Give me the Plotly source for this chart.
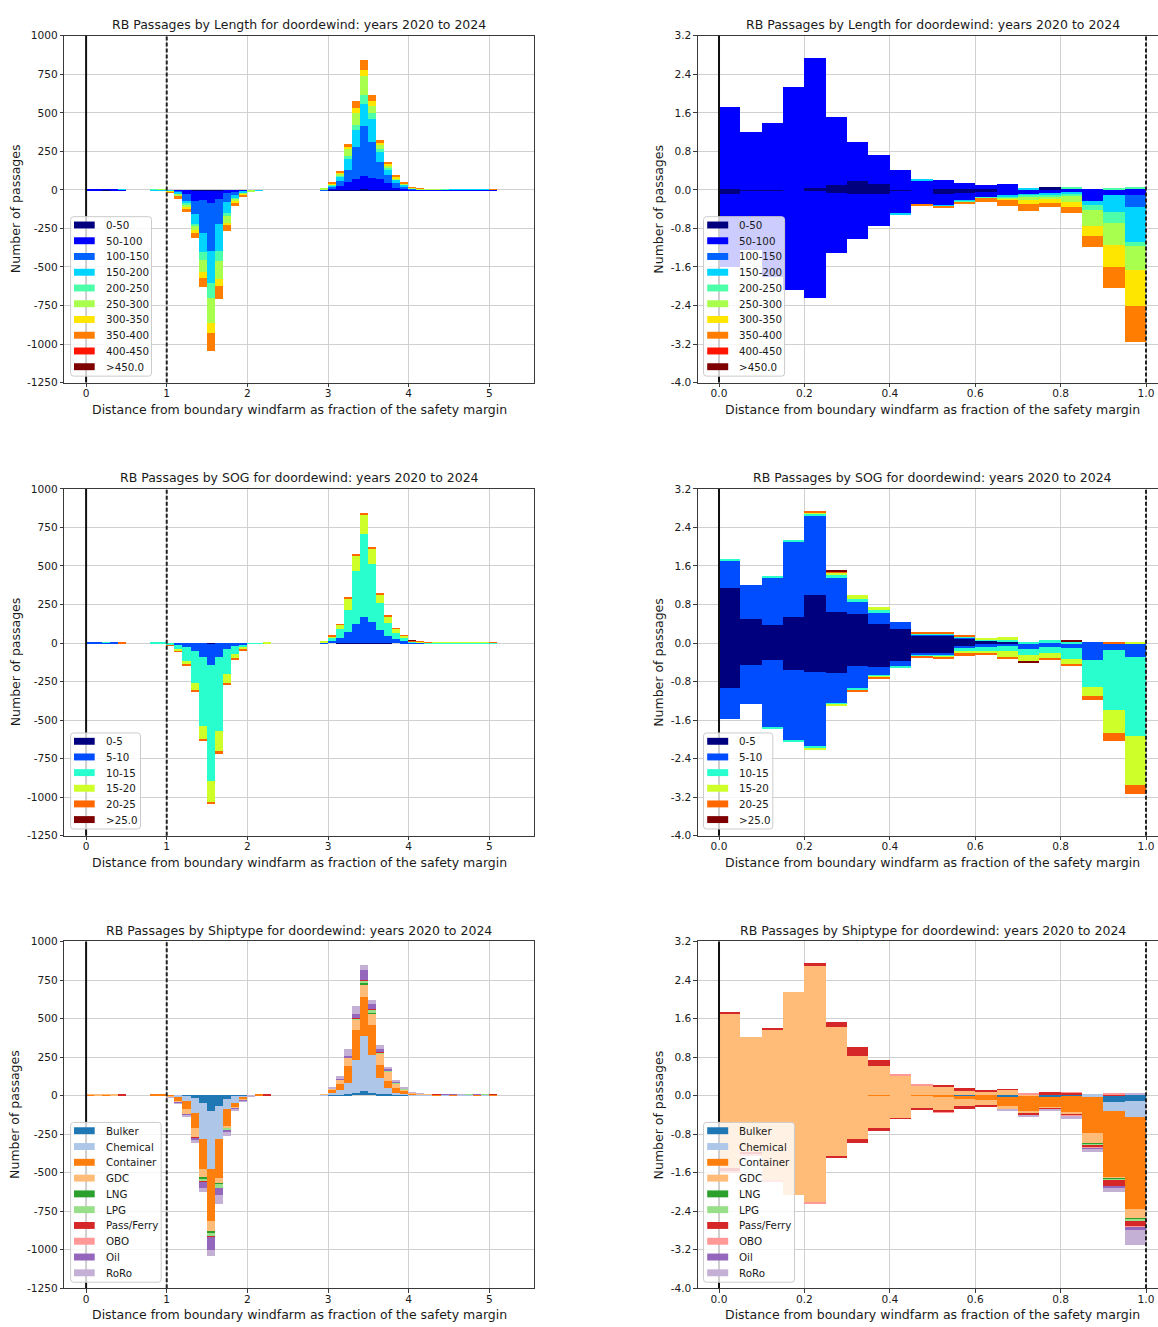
import plotly.graph_objects as go

W, H = 1158, 1327
FONT = "DejaVu Sans"
TXT = "#1a1a1a"
SPINE = "#3a3a3a"
GRID = "#d0d0d0"

# ---------------- categories and colours ----------------
len_cats = ["0-50", "50-100", "100-150", "150-200", "200-250", "250-300",
            "300-350", "350-400", "400-450", ">450.0"]
len_colors = ["#00007f", "#0000ff", "#0063ff", "#00d4ff", "#4effa9", "#a9ff4e",
              "#ffe600", "#ff7d00", "#ff1400", "#7f0000"]
sog_cats = ["0-5", "5-10", "10-15", "15-20", "20-25", ">25.0"]
sog_colors = ["#00007f", "#004cff", "#29ffce", "#ceff29", "#ff6800", "#7f0000"]
ship_cats = ["Bulker", "Chemical", "Container", "GDC", "LNG", "LPG",
             "Pass/Ferry", "OBO", "Oil", "RoRo"]
ship_colors = ["#1f77b4", "#aec7e8", "#ff7f0e", "#ffbb78", "#2ca02c", "#98df8a",
               "#d62728", "#ff9896", "#9467bd", "#c5b0d5"]

# ---------------- left panels: 51 bins of 0.1 (0.0 ... 5.1), upward passages ----------------
len_left_up = [
    [0,0,1,0,0,0,0,0,0,0, 0,0,0,0,0,0,0,0,0,0, 0,0,0,0,0,0,0,0,0,0, 1,2,3,4,5,4,3,2,1,0, 0,0,0,0,0,0,0,0,0,0, 0],
    [2,3,6,3,2,0,0,0,0,0, 0,0,0,0,0,0,0,0,0,0, 0,0,0,0,0,0,0,0,0,0, 12,28,53,69,89,77,70,43,16,8, 3,1,1,1,1,2,2,2,2,2, 1],
    [0,0,0,0,0,0,0,0,0,0, 0,0,0,0,0,0,0,0,0,0, 0,0,0,0,0,0,0,0,0,2, 8,30,74,207,325,231,111,53,28,16, 5,3,1,0,1,1,1,1,1,1, 1],
    [0,0,0,0,1,0,0,0,1,2, 0,0,0,0,0,0,0,0,0,0, 0,0,0,0,0,0,0,0,0,3, 9,28,75,111,143,150,64,39,21,10, 4,3,1,1,1,1,1,1,1,1, 0],
    [0,0,0,0,0,0,0,0,1,0, 0,0,0,0,0,0,0,0,0,0, 0,0,0,0,0,0,0,0,0,1, 4,6,15,32,53,38,21,8,4,2, 1,0,0,0,1,0,0,0,0,0, 0],
    [0,0,0,0,0,0,0,0,0,1, 0,0,0,0,0,0,0,0,0,0, 0,0,0,0,0,0,0,0,0,2, 4,13,45,77,124,47,26,13,7,5, 2,1,1,1,0,0,0,0,0,0, 0],
    [0,0,0,0,0,0,0,0,0,0, 0,0,0,0,0,0,0,0,0,0, 0,0,0,0,0,0,0,0,0,0, 3,6,15,36,43,32,13,9,8,2, 1,0,0,0,0,0,0,0,0,0, 0],
    [0,0,0,0,0,0,0,0,0,0, 0,0,0,0,0,0,0,0,0,0, 0,0,0,0,0,0,0,0,0,0, 6,13,21,43,62,38,15,17,13,8, 3,2,0,0,0,0,0,0,0,0, 2],
    [0,0,0,0,0,0,0,0,0,0, 0,0,0,0,0,0,0,0,0,0, 0,0,0,0,0,0,0,0,0,0, 0,0,0,0,0,0,0,0,0,0, 0,0,0,0,0,0,0,0,0,0, 0],
    [0,0,0,0,0,0,0,0,0,0, 0,0,0,0,0,0,0,0,0,0, 0,0,0,0,0,0,0,0,0,0, 0,0,0,0,0,0,0,0,0,0, 0,0,0,0,0,0,0,0,0,0, 0],
]
# left panels: 12 bins of 0.1 (1.0 ... 2.2), downward passages
len_left_down = [
    [0,-1,-2,-3,-4,-5,-4,-2,-1,0,0,0],
    [-3,-8,-24,-70,-62,-78,-52,-17,-14,-6,-3,0],
    [-2,-6,-47,-79,-214,-310,-166,-58,-15,-5,0,0],
    [-3,-11,-12,-70,-122,-210,-175,-70,-21,-8,-2,-2],
    [-1,-4,-9,-11,-49,-94,-60,-18,-7,-2,0,0],
    [-2,-8,-17,-28,-81,-162,-118,-47,-15,-7,-1,0],
    [-1,-5,-11,-19,-39,-68,-47,-17,-10,-4,0,0],
    [-3,-12,-19,-30,-57,-114,-87,-36,-20,-11,0,0],
    [0,0,0,0,0,0,0,0,0,0,0,0],
    [0,0,0,0,0,0,0,0,0,0,0,0],
]

sog_left_up = [
    [0,0,0,0,0,0,0,0,0,0, 0,0,0,0,0,0,0,0,0,0, 0,0,0,0,0,0,0,0,0,0, 0,1,1,3,4,4,3,1,0,0, 0,0,0,0,0,0,0,0,0,0, 0],
    [1,1,2,1,0,0,0,0,0,0, 0,0,0,0,0,0,0,0,0,0, 0,0,0,0,0,0,0,0,0,1, 15,35,69,119,167,131,80,46,24,11, 4,1,0,0,0,0,0,0,0,0, 0],
    [0,0,3,0,0,0,0,0,2,2, 0,0,0,0,0,0,0,0,0,0, 0,0,0,0,0,0,0,0,0,6, 17,54,148,348,534,378,180,85,44,21, 6,5,2,1,1,2,3,3,3,3, 2],
    [0,0,0,0,0,0,0,0,0,0, 0,0,0,0,0,0,0,0,0,0, 0,0,2,0,0,0,0,0,0,1, 13,32,70,101,128,102,55,43,28,17, 3,3,2,3,3,2,1,1,1,1, 0],
    [0,0,0,0,2,0,0,0,0,0, 0,0,0,0,0,0,0,0,0,0, 0,0,0,0,0,0,0,0,0,0, 2,2,6,8,9,7,7,7,2,1, 3,1,1,0,0,0,0,0,0,0, 2],
    [0,0,0,0,0,0,0,0,0,0, 0,0,0,0,0,0,0,0,0,0, 0,0,0,0,0,0,0,0,0,0, 0,0,0,0,0,0,0,0,0,0, 2,0,0,0,0,0,0,0,0,0, 0],
]
sog_left_down = [
    [0,0,0,0,-2,-3,-2,0,0,0,0,0],
    [-3,-15,-24,-49,-90,-136,-90,-38,-17,-9,-3,0],
    [-9,-28,-89,-212,-446,-752,-479,-161,-54,-19,-2,-1],
    [-2,-10,-26,-49,-88,-141,-134,-62,-29,-13,0,0],
    [-1,-2,-6,-4,-6,-11,-11,-6,-7,-4,0,0],
    [0,0,0,0,0,0,0,0,0,0,0,0],
]

ship_left_up = [
    [0,0,0,0,0,0,0,0,0,0, 0,0,0,0,0,0,0,0,0,0, 0,0,0,0,0,0,0,0,0,0, 1,2,5,15,26,15,10,5,2,1, 0,0,0,0,0,0,0,0,0,0, 0],
    [0,0,0,0,0,0,0,0,0,0, 0,0,0,0,0,0,0,0,0,0, 0,0,0,0,0,0,0,0,0,1, 14,34,74,214,356,246,101,42,13,8, 3,1,1,0,1,0,1,1,0,1, 0],
    [1,0,1,0,0,0,0,0,2,2, 0,0,0,0,0,0,0,0,0,0, 0,1,0,0,0,0,0,0,0,4, 23,37,107,196,257,193,86,47,34,18, 6,4,1,1,1,1,1,1,1,0, 1],
    [1,1,4,1,0,0,0,0,0,0, 0,0,0,0,0,0,0,0,0,0, 0,0,0,0,0,0,0,0,0,1, 8,27,57,64,81,73,70,60,25,9, 5,3,2,1,1,1,1,0,1,1, 1],
    [0,0,0,0,0,0,0,0,0,0, 0,0,0,0,0,0,0,0,0,0, 0,0,0,0,0,0,0,0,0,0, 0,0,1,4,6,8,6,2,1,2, 0,0,0,0,0,0,0,0,0,0, 0],
    [0,0,0,0,0,0,0,0,0,0, 0,0,0,0,0,0,0,0,0,0, 0,0,0,0,0,0,0,0,0,0, 0,0,1,6,15,20,6,3,4,2, 1,0,0,0,0,0,0,2,0,2, 0],
    [0,0,0,0,2,0,0,0,0,0, 0,0,0,0,0,0,0,0,0,0, 0,0,2,0,0,0,0,0,0,0, 0,0,2,4,7,2,2,0,0,0, 1,0,0,2,0,2,1,0,0,0, 2],
    [0,0,0,0,0,0,0,0,0,0, 0,0,0,0,0,0,0,0,0,0, 0,0,0,0,0,0,0,0,0,0, 0,0,0,0,0,0,0,0,0,0, 0,0,0,0,0,0,0,0,0,0, 0],
    [0,0,0,0,0,0,0,0,0,0, 0,0,0,0,0,0,0,0,0,0, 0,0,0,0,0,0,0,0,0,0, 0,7,7,25,62,35,16,10,8,4, 1,1,0,0,1,1,0,0,2,0, 0],
    [0,0,0,0,0,0,0,0,0,0, 0,0,0,0,0,0,0,0,0,0, 0,0,0,0,0,0,0,0,0,0, 1,19,47,51,34,25,26,15,11,7, 2,1,0,0,0,0,1,0,0,0, 0],
]
ship_left_down = [
    [0,-1,-3,-17,-49,-103,-70,-28,-8,-3,-1,0],
    [-4,-12,-35,-101,-235,-373,-214,-64,-41,-15,-2,0],
    [-6,-28,-54,-96,-192,-342,-252,-107,-32,-12,-1,0],
    [-3,-7,-32,-60,-60,-64,-36,-17,-5,-4,0,0],
    [0,0,-1,-1,-9,-11,-6,-2,-1,0,0,0],
    [0,-1,-2,-2,-17,-22,-22,-5,0,-1,0,0],
    [-1,-1,-1,-1,-2,-6,0,0,-1,0,-1,0],
    [0,0,0,0,0,0,0,0,0,0,0,0],
    [0,-2,-6,-10,-41,-85,-47,-18,-5,-3,0,0],
    [-1,-3,-7,-22,-23,-35,-62,-24,-10,-5,-1,0],
]

# ---------------- right panels: 20 bins of 0.05 (0.0 ... 1.0) ----------------
len_right_up = [
    [0.03,0.01,0.01,0,0.04,0.10,0.18,0.12,0.01,0.01,0.03,0.03,0.02,0.01,0,0.06,0,0,0.01,0],
    [1.69,1.19,1.39,2.14,2.71,1.41,0.81,0.61,0.41,0.20,0.19,0.11,0.08,0.11,0.02,0,0.03,0.01,0.01,0.03],
    [0,0,0,0,0,0,0,0,0,0,0,0,0,0,0,0,0,0,0,0],
    [0,0,0,0,0,0,0,0,0,0.01,0,0,0,0,0.01,0,0.01,0,0,0],
    [0,0,0,0,0,0,0,0,0,0,0,0,0,0,0,0,0.02,0,0.01,0.02],
    [0,0,0,0,0,0,0,0,0,0,0,0,0,0,0,0,0,0,0,0],
    [0,0,0,0,0,0,0,0,0,0,0,0,0,0,0,0,0,0,0,0],
    [0,0,0,0,0,0,0,0,0,0,0,0,0,0,0,0,0,0,0,0],
    [0,0,0,0,0,0,0,0,0,0,0,0,0,0,0,0,0,0,0,0],
    [0,0,0,0,0,0,0,0,0,0,0,0,0,0,0,0,0,0,0,0],
]
len_right_down = [
    [-0.07,-0.02,-0.01,0,-0.02,-0.05,-0.09,-0.09,-0.01,0,-0.08,-0.05,-0.03,0,0,0,0,0,0,0],
    [-1.53,-1.23,-1.79,-2.07,-2.21,-1.25,-0.92,-0.66,-0.48,-0.29,-0.23,-0.17,-0.12,-0.10,-0.08,-0.07,-0.05,-0.22,-0.10,-0.10],
    [0,0,0,0,0,0,0,0,0,0,0,0,0,0,0,0,0,0,0,-0.26],
    [0,0,0,0,0,0,0,0,-0.01,0,-0.03,-0.01,-0.01,-0.05,-0.04,-0.03,-0.03,-0.09,-0.35,-0.72],
    [0,0,0,0,0,0,0,0,0,0,0,-0.01,-0.01,-0.03,-0.03,-0.05,-0.04,-0.10,-0.23,-0.08],
    [0,0,0,0,0,0,0,0,0,0,0,0,0,-0.01,-0.05,-0.03,-0.12,-0.34,-0.45,-0.50],
    [0,0,0,0,0,0,0,0,0,0,0,0,0,-0.01,-0.08,-0.08,-0.12,-0.21,-0.46,-0.74],
    [0,0,0,0,0,0,0,0,0,-0.02,-0.02,-0.05,-0.08,-0.13,-0.15,-0.08,-0.12,-0.22,-0.45,-0.75],
    [0,0,0,0,0,0,0,0,0,0,0,0,0,0,0,0,0,0,0,0],
    [0,0,0,0,0,0,0,0,0,0,0,0,0,0,0,0,0,0,0,0],
]

sog_right_up = [
    [1.14,0.51,0.37,0.55,0.99,0.64,0.60,0.40,0.30,0.15,0.15,0.10,0.05,0.03,0,0,0,0,0,0],
    [0.58,0.70,0.99,1.57,1.66,0.71,0.25,0.24,0.13,0.03,0.02,0.01,0,0,0,0,0,0.01,0,0],
    [0.01,0,0.04,0.03,0.04,0.08,0.07,0.04,0,0.01,0.02,0.02,0.03,0.05,0.03,0.06,0.04,0,0,0],
    [0,0,0,0,0.02,0.03,0.09,0.07,0,0,0,0.01,0.02,0.04,0,0,0,0,0,0.03],
    [0,0,0,0,0.04,0.02,0,0,0,0.04,0.03,0.01,0,0,0,0,0,0,0.02,0],
    [0,0,0,0,0,0.04,0,0,0,0,0,0,0,0,0,0,0.02,0,0,0],
]
sog_right_down = [
    [-0.93,-0.45,-0.36,-0.55,-0.59,-0.61,-0.47,-0.49,-0.38,-0.21,-0.21,-0.05,-0.02,-0.02,0,0,0,0,0,0],
    [-0.65,-0.82,-1.39,-1.48,-1.55,-0.64,-0.48,-0.18,-0.11,-0.04,-0.04,-0.05,-0.05,-0.04,-0.13,-0.08,-0.11,-0.34,-0.15,-0.29],
    [0,0,-0.03,-0.03,-0.04,-0.03,-0.03,-0.02,-0.01,-0.02,-0.02,-0.08,-0.09,-0.10,-0.12,-0.13,-0.21,-0.58,-1.24,-1.63],
    [0,0,0,0,-0.03,-0.01,-0.01,-0.03,0,0,-0.01,-0.03,-0.05,-0.13,-0.14,-0.10,-0.12,-0.18,-0.47,-1.03],
    [0,0,0,0,0,0,-0.01,-0.02,0,-0.02,-0.05,-0.06,-0.03,-0.02,0,-0.02,-0.03,-0.09,-0.17,-0.19],
    [0,0,0,0,0,0,0,0,0,0,0,0,0,0,-0.02,0,0,0,0,0],
]

ship_right_up = [
    [0,0,0,0,0,0,0,0,0,0,0,0,0,0,0,0,0,0,0,0],
    [0,0,0,0,0,0,0,0,0,0,0,0,0,0,0,0,0,0.02,0,0],
    [0,0,0,0,0,0,0,0,0,0,0,0,0,0,0,0,0,0,0,0],
    [1.69,1.20,1.37,2.14,2.68,1.42,0.82,0.60,0.40,0.21,0.17,0.10,0.07,0.11,0.01,0,0,0,0,0],
    [0,0,0,0,0,0,0,0,0,0,0,0,0,0,0,0,0,0,0,0],
    [0,0,0,0,0,0,0,0,0,0,0,0,0,0,0,0,0,0,0,0],
    [0.03,0,0.03,0,0.07,0.10,0.19,0.14,0,0,0.05,0.04,0.03,0.01,0,0.07,0.05,0,0.01,0],
    [0,0,0,0,0,0,0,0,0.03,0.01,0,0,0,0,0.03,0,0.01,0,0.02,0],
    [0,0,0,0,0,0,0,0,0,0,0,0,0,0,0,0,0,0,0,0],
    [0,0,0,0,0,0,0,0,0,0,0,0,0,0,0,0,0,0,0,0.05],
]
ship_right_down = [
    [0,0,0,0,0,0,0,0,0,0,-0.01,-0.01,0,-0.03,-0.02,-0.03,-0.02,-0.01,-0.15,-0.13],
    [0,0,0,0,0,0,0,0,0,0,0,0,0,0,0,0,0,-0.02,-0.17,-0.33],
    [0,0,0,0,0,0,0,-0.01,0,-0.02,-0.03,-0.07,-0.10,-0.20,-0.31,-0.22,-0.35,-0.75,-1.38,-1.90],
    [-1.52,-1.20,-1.78,-2.07,-2.22,-1.27,-0.90,-0.67,-0.48,-0.26,-0.27,-0.15,-0.12,-0.07,-0.06,-0.02,-0.03,-0.22,-0.04,-0.21],
    [0,0,0,0,0,0,0,0,0,0,0,0,0,0,0,0,0,-0.02,-0.01,-0.02],
    [0,0,0,0,0,0,0,0,0,0,0,0,0,0,0,0,0,-0.02,-0.02,-0.02],
    [-0.06,-0.04,0,0,0,-0.04,-0.09,-0.07,-0.01,-0.02,-0.04,-0.05,-0.02,0,-0.03,-0.02,-0.02,-0.05,-0.12,-0.12],
    [-0.02,-0.01,-0.02,0,-0.03,0,0,0,0,0,-0.01,0,0,0,0,0,-0.02,-0.01,-0.01,-0.01],
    [0,0,0,0,0,0,0,0,0,0,0,0,0,0,0,0,0,-0.03,-0.03,-0.05],
    [0,0,0,0,0,0,0,0,0,0,0,0,0,-0.03,-0.02,-0.03,-0.05,-0.04,-0.09,-0.32],
]

# ---------------- bins / ticks ----------------
left_centers = [round(0.05 + 0.1 * i, 2) for i in range(51)]
left_down_centers = left_centers[10:22]
right_centers = [round(0.025 + 0.05 * i, 3) for i in range(20)]

left_xticks = [0, 1, 2, 3, 4, 5]
left_yticks = [-1250, -1000, -750, -500, -250, 0, 250, 500, 750, 1000]
right_xticks = [0.0, 0.2, 0.4, 0.6, 0.8, 1.0]
right_yticks = [-4.0, -3.2, -2.4, -1.6, -0.8, 0.0, 0.8, 1.6, 2.4, 3.2]

XLABEL = "Distance from boundary windfarm as fraction of the safety margin"
YLABEL = "Number of passages"

# ---------------- geometry (pixels) ----------------
ROWS = [(30, 380), (487.3, 837.3), (944, 1294)]
TITLE_Y = [19, 475.7, 933.3]
XLAB_Y = [406.7, 864, 1320]
LEFT_COL = (64.4, 534.4)
RIGHT_COL = (698, 1158)


def xp(px):
    return px / W


def yp(py):
    return 1 - py / H


panels = [
    dict(title="RB Passages by Length for doordewind: years 2020 to 2024", side="left", row=0,
         cats=len_cats, colors=len_colors, up=len_left_up, down=len_left_down,
         legend=(151.5, 221, 15.89)),
    dict(title="RB Passages by Length for doordewind: years 2020 to 2024", side="right", row=0,
         cats=len_cats, colors=len_colors, up=len_right_up, down=len_right_down,
         legend=(784.6, 221, 15.89)),
    dict(title="RB Passages by SOG for doordewind: years 2020 to 2024", side="left", row=1,
         cats=sog_cats, colors=sog_colors, up=sog_left_up, down=sog_left_down,
         legend=(140.5, 742, 15.8)),
    dict(title="RB Passages by SOG for doordewind: years 2020 to 2024", side="right", row=1,
         cats=sog_cats, colors=sog_colors, up=sog_right_up, down=sog_right_down,
         legend=(772.8, 742, 15.8)),
    dict(title="RB Passages by Shiptype for doordewind: years 2020 to 2024", side="left", row=2,
         cats=ship_cats, colors=ship_colors, up=ship_left_up, down=ship_left_down,
         legend=(161.2, 1135, 15.93)),
    dict(title="RB Passages by Shiptype for doordewind: years 2020 to 2024", side="right", row=2,
         cats=ship_cats, colors=ship_colors, up=ship_right_up, down=ship_right_down,
         legend=(794.5, 1135, 15.93)),
]


def rounded_rect(x0, y0, x1, y1, r=3):
    X, Y = xp, yp
    return (f"M {X(x0 + r)},{Y(y0)} L {X(x1 - r)},{Y(y0)} Q {X(x1)},{Y(y0)} {X(x1)},{Y(y0 + r)} "
            f"L {X(x1)},{Y(y1 - r)} Q {X(x1)},{Y(y1)} {X(x1 - r)},{Y(y1)} "
            f"L {X(x0 + r)},{Y(y1)} Q {X(x0)},{Y(y1)} {X(x0)},{Y(y1 - r)} "
            f"L {X(x0)},{Y(y0 + r)} Q {X(x0)},{Y(y0)} {X(x0 + r)},{Y(y0)} Z")


fig = go.Figure()
line_shapes, legend_shapes = [], []
annotations = []
layout = {}

for n, p in enumerate(panels, start=1):
    sx = "" if n == 1 else str(n)
    xref, yref = "x" + sx, "y" + sx
    top, bot = ROWS[p["row"]]
    left = p["side"] == "left"
    if left:
        col = LEFT_COL
        xr = [-0.269, 5.559]
        xt, xtt = left_xticks, [str(v) for v in left_xticks]
        yr = [-1250, 1000]
        yt, ytt = left_yticks, [str(v) for v in left_yticks]
        up_x, dn_x, w = left_centers, left_down_centers, 0.1
        title_cx = (LEFT_COL[0] + LEFT_COL[1]) / 2
        ylab_x = 15
        leg_x0, patch_x0, patch_x1, text_x = 70.6, 74, 94.7, 104
    else:
        col = RIGHT_COL
        xr = [-0.0492, 1.0281]
        xt, xtt = right_xticks, ["%.1f" % v for v in right_xticks]
        yr = [-4.0, 3.2]
        yt, ytt = right_yticks, ["%.1f" % v for v in right_yticks]
        up_x, dn_x, w = right_centers, right_centers, 0.05
        title_cx = 932.5
        ylab_x = 658.5
        leg_x0, patch_x0, patch_x1, text_x = 703.5, 707.2, 728.2, 736.6

    for cat, color, u, d in zip(p["cats"], p["colors"], p["up"], p["down"]):
        assert len(u) == len(up_x) and len(d) == len(dn_x), (p["title"], cat, len(u), len(d))
        fig.add_trace(go.Bar(x=up_x, y=u, width=w, name=cat,
                             marker=dict(color=color, line=dict(width=0)),
                             xaxis=xref, yaxis=yref, showlegend=False, hoverinfo="skip"))
        fig.add_trace(go.Bar(x=dn_x, y=d, width=w, name=cat,
                             marker=dict(color=color, line=dict(width=0)),
                             xaxis=xref, yaxis=yref, showlegend=False, hoverinfo="skip"))

    tickfont = dict(family=FONT, size=10.6, color=TXT)
    layout["xaxis" + sx] = dict(
        domain=[xp(col[0]), xp(col[1])], range=xr, anchor=yref,
        tickmode="array", tickvals=xt, ticktext=xtt, tickfont=tickfont,
        showgrid=True, gridcolor=GRID, gridwidth=1,
        zeroline=False, showline=True, linecolor=SPINE, linewidth=1.1,
        mirror=True, ticks="outside", ticklen=3.5, tickwidth=1, tickcolor=SPINE,
        ticklabelstandoff=-3, fixedrange=True)
    layout["yaxis" + sx] = dict(
        domain=[yp(bot), yp(top)], range=yr, anchor=xref,
        tickmode="array", tickvals=yt, ticktext=ytt, tickfont=tickfont,
        showgrid=True, gridcolor=GRID, gridwidth=1,
        zeroline=False, showline=True, linecolor=SPINE, linewidth=1.1,
        mirror=left, ticks="outside", ticklen=3.5, tickwidth=1, tickcolor=SPINE,
        fixedrange=True)

    # boundary (solid) and safety-margin (dashed) lines
    line_shapes.append(dict(type="line", xref=xref, yref=yref + " domain", x0=0, x1=0,
                            y0=0, y1=1, layer="above", line=dict(color="#111111", width=2)))
    line_shapes.append(dict(type="line", xref=xref, yref=yref + " domain", x0=1, x1=1,
                            y0=0, y1=1, layer="above",
                            line=dict(color="#222222", width=2, dash="4px,2px")))

    # legend box
    leg_x1, first_y, step = p["legend"]
    ncat = len(p["cats"])
    box_top = first_y - 8.4
    box_bot = first_y + step * (ncat - 1) + 9.5
    legend_shapes.append(dict(type="path", xref="paper", yref="paper", layer="above",
                              path=rounded_rect(leg_x0, box_top, leg_x1, box_bot, 3),
                              fillcolor="rgba(255,255,255,0.8)",
                              line=dict(color="#cccccc", width=1)))
    for i, (cat, color) in enumerate(zip(p["cats"], p["colors"])):
        cy = first_y + step * i
        legend_shapes.append(dict(type="rect", xref="paper", yref="paper", layer="above",
                                  x0=xp(patch_x0), x1=xp(patch_x1), y0=yp(cy + 3.5), y1=yp(cy - 3.5),
                                  fillcolor=color, line=dict(width=0)))
        annotations.append(dict(text=cat, x=xp(text_x), y=yp(cy), xref="paper", yref="paper",
                                xanchor="left", yanchor="middle", showarrow=False,
                                font=dict(family=FONT, size=10.3, color=TXT)))

    # titles and axis labels
    annotations.append(dict(text=p["title"], x=xp(title_cx), y=yp(TITLE_Y[p["row"]]),
                            xref="paper", yref="paper", xanchor="center", yanchor="middle",
                            showarrow=False, font=dict(family=FONT, size=12.5, color=TXT)))
    annotations.append(dict(text=XLABEL, x=xp(title_cx), y=yp(XLAB_Y[p["row"]]),
                            xref="paper", yref="paper", xanchor="center", yanchor="middle",
                            showarrow=False, font=dict(family=FONT, size=12.5, color=TXT)))
    annotations.append(dict(text=YLABEL, x=xp(ylab_x), y=yp((top + bot) / 2),
                            xref="paper", yref="paper", xanchor="center", yanchor="middle",
                            textangle=-90, showarrow=False,
                            font=dict(family=FONT, size=12.5, color=TXT)))

fig.update_layout(
    width=W, height=H, autosize=False,
    margin=dict(l=0, r=0, t=0, b=0),
    paper_bgcolor="white", plot_bgcolor="white",
    barmode="relative", bargap=0, bargroupgap=0,
    showlegend=False,
    shapes=line_shapes + legend_shapes,
    annotations=annotations,
    font=dict(family=FONT, color=TXT),
    **layout,
)

fig.write_html("out.html")
